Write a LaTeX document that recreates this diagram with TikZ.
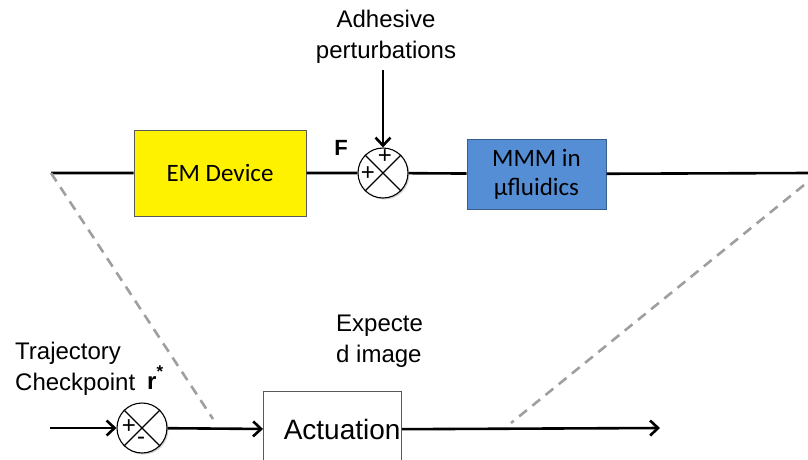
\documentclass[tikz,border=0pt]{standalone}
\usepackage{fontspec}
\setmainfont{Liberation Sans}
\newfontfamily\calibri{Carlito}
\usetikzlibrary{arrows.meta,shadows}
\definecolor{mmmblue}{RGB}{85,142,213}
\definecolor{mmmedge}{RGB}{56,93,138}

\begin{document}
\begin{tikzpicture}[
    x=1pt, y=-1pt,
    every node/.style={font=\fontsize{24}{31}\selectfont, inner sep=1pt},
    wire/.style={draw, line width=2.6pt},
    feed/.style={wire, -{Straight Barb[length=8pt,width=15pt,line width=2.6pt]}},
    guide/.style={draw=gray!75, line width=2.6pt, dash pattern=on 10pt off 7pt},
    block/.style={draw, line width=1pt, font=\calibri\fontsize{25}{29}\selectfont},
    emdev/.style={fill=yellow, draw=gray!70!black},
    mmm/.style={fill=mmmblue, draw=mmmedge},
    sumpt/.style={circle, draw, line width=1.1pt, fill=white, minimum size=50pt,
                  drop shadow={opacity=0.35, shadow xshift=1.5pt, shadow yshift=-1.5pt}},
    sign/.style={font=\fontsize{24}{24}\selectfont},
  ]
  \clip (0,0) rectangle (808,459);
  % forward path
  \coordinate (inL) at (51,173);
  \node[block, emdev, minimum width=172pt, minimum height=86pt] (em) at (220,173) {EM Device};
  \node[sumpt] (s1) at (383,173) {};
  \draw[line width=1.1pt] (s1.north west) -- (s1.south east) (s1.north east) -- (s1.south west);
  \node[sign] (s1top) at (385,157) {+};
  \node[sign] (s1left) at (368,174) {+};
  \node[font=\bfseries\fontsize{22}{22}\selectfont] (force) at (341,148) {F};
  \node[align=center] (pert) at (386,37) {Adhesive\\perturbations};
  \coordinate (pertend) at (383,70);
  \node[block, mmm, minimum width=139pt, minimum height=70pt, align=center] (mm) at (536.5,174) {MMM in\\μfluidics};
  \coordinate (outR) at (808,173);
  \draw[wire] (inL) -- (em) -- (s1) -- (mm) -- (outR);
  \draw[feed] (pertend) -- (s1.north);
  % dashed guides
  \coordinate (dl) at (213,419);
  \coordinate (dr) at (804,185);
  \coordinate (dre) at (511,423);
  \draw[guide] (inL) -- (dl);
  \draw[guide] (dr) -- (dre);
  % loop input
  \coordinate (in2) at (50,428);
  \node[sumpt] (s2) at (142,428) {};
  \draw[line width=1.1pt] (s2.north west) -- (s2.south east) (s2.north east) -- (s2.south west);
  \node[sign] (s2left) at (129,427) {+};
  \node[sign] (s2low) at (141,441) {-};
  \node[draw=gray!70!black, line width=1pt, anchor=north west, minimum width=138pt,
        minimum height=76pt, text width=136pt, align=right,
        font=\fontsize{28}{28}\selectfont] (act) at (263,391) {Actuation};
  \coordinate (out2) at (660,428);
  \draw[feed] (in2) -- (s2);
  \draw[feed] (s2) -- (act);
  \draw[feed] (act) -- (out2);
  % labels
  \node[align=left, anchor=west] (traj) at (14,369) {Trajectory\\Checkpoint};
  \node[anchor=base west] (rstar) at (146,389) {\bfseries r\raisebox{12pt}{\fontsize{17}{17}\selectfont *}};
  \node[align=left, anchor=west] (expimg) at (335,341) {Expecte\\d image};
\end{tikzpicture}
\end{document}
